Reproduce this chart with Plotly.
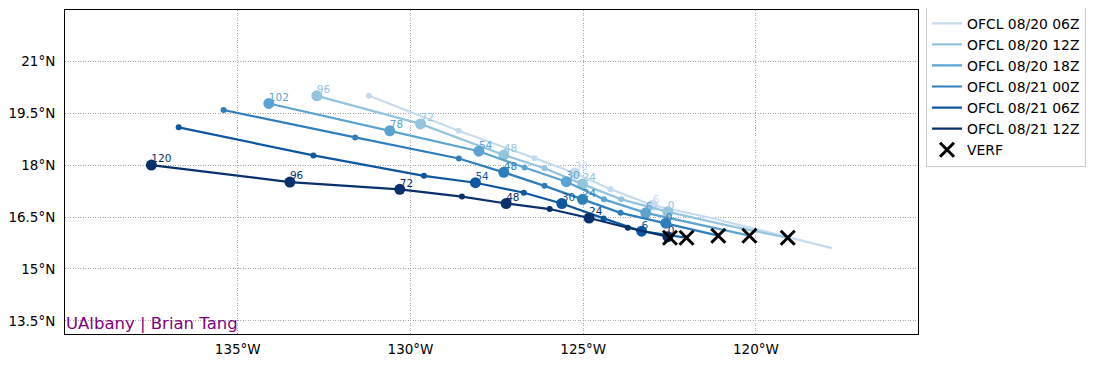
import plotly.graph_objects as go

# ---------------- data ----------------
fcst_hours = [0, 12, 24, 36, 48, 60, 72, 96, 120]

track_names = ["OFCL 08/20 06Z", "OFCL 08/20 12Z", "OFCL 08/20 18Z",
               "OFCL 08/21 00Z", "OFCL 08/21 06Z", "OFCL 08/21 12Z"]
# hours before the latest forecast (08/21 12Z)
track_offsets = [30, 24, 18, 12, 6, 0]

a_lon = [-117.80, -119.50, -121.20, -122.99, -124.21, -125.25, -126.41, -128.61, -131.20]
a_lat = [15.60, 16.02, 16.45, 16.84, 17.30, 17.77, 18.20, 18.99, 20.00]

b_lon = [-119.08, -120.80, -122.55, -123.90, -125.02, -126.12, -127.30, -129.71, -132.71]
b_lat = [15.90, 16.25, 16.65, 17.01, 17.45, 17.91, 18.29, 19.19, 20.00]

c_lon = [-120.19, -121.70, -123.19, -124.40, -125.49, -126.70, -128.02, -130.60, -134.10]
c_lat = [15.96, 16.30, 16.62, 17.01, 17.52, 17.93, 18.40, 18.99, 19.78]

d_lon = [-121.09, -122.61, -123.92, -125.02, -126.12, -127.30, -128.60, -131.60, -135.41]
d_lat = [15.96, 16.32, 16.62, 17.01, 17.40, 17.79, 18.19, 18.80, 19.59]

e_lon = [-122.01, -123.31, -124.41, -125.62, -126.72, -128.12, -129.61, -132.81, -136.71]
e_lat = [15.90, 16.09, 16.46, 16.89, 17.20, 17.49, 17.69, 18.28, 19.09]

f_lon = [-122.55, -123.71, -124.83, -125.97, -127.23, -128.51, -130.31, -133.49, -137.50]
f_lat = [15.93, 16.19, 16.47, 16.73, 16.89, 17.09, 17.30, 17.51, 18.00]

verf_lon = [-122.49, -122.01, -121.09, -120.19, -119.08]
verf_lat = [15.90, 15.90, 15.96, 15.96, 15.90]

lon_ticks = [-135, -130, -125, -120]
lon_ticktext = ["135°W", "130°W", "125°W", "120°W"]
lat_ticks = [13.5, 15, 16.5, 18, 19.5, 21]
lat_ticktext = ["13.5°N", "15°N", "16.5°N", "18°N", "19.5°N", "21°N"]

# ---------------- style ----------------
colors = ["#c6dbef", "#94c4df", "#5ba3d0", "#2e7ebc", "#0d57a1", "#08306b"]
FONT = "DejaVu Sans"

tracks_lon = [a_lon, b_lon, c_lon, d_lon, e_lon, f_lon]
tracks_lat = [a_lat, b_lat, c_lat, d_lat, e_lat, f_lat]

fig = go.Figure()

for name, off, lon, lat, col in zip(track_names, track_offsets, tracks_lon, tracks_lat, colors):
    hrs = [fh - off for fh in fcst_hours]
    h0 = min(h for h in hrs if h >= 0)
    big = [i for i, h in enumerate(hrs) if h >= 0 and (h - h0) % 24 == 0]
    small = [i for i, h in enumerate(hrs) if h >= 0 and (h - h0) % 24 != 0]

    fig.add_trace(go.Scatter(x=lon, y=lat, mode="lines", name=name,
                             line=dict(color=col, width=2.2), hoverinfo="skip"))
    fig.add_trace(go.Scatter(x=[lon[i] for i in small], y=[lat[i] for i in small],
                             mode="markers", showlegend=False,
                             marker=dict(color=col, size=6, line=dict(width=0))))
    fig.add_trace(go.Scatter(x=[lon[i] for i in big], y=[lat[i] for i in big],
                             mode="markers", showlegend=False,
                             marker=dict(color=col, size=11, line=dict(width=0))))
    fig.add_trace(go.Scatter(x=[lon[i] for i in big], y=[lat[i] for i in big],
                             mode="text", showlegend=False,
                             text=[str(hrs[i]) for i in big],
                             textposition="top right",
                             textfont=dict(family=FONT, size=10.5, color=col)))

fig.add_trace(go.Scatter(x=verf_lon, y=verf_lat, mode="markers", name="VERF",
                         marker=dict(symbol="x-thin", size=14, color="black",
                                     line=dict(color="black", width=3))))

fig.add_annotation(text="UAlbany | Brian Tang", xref="paper", yref="paper",
                   x=0, y=0, xanchor="left", yanchor="bottom", showarrow=False,
                   borderpad=0, font=dict(family=FONT, size=16.5, color="#800080"))

# the page adds an 8px body margin, so the figure is 8px smaller and margins shifted
fig.update_layout(
    width=1090, height=357, autosize=False,
    margin=dict(l=57, r=180, t=2, b=31, autoexpand=False),
    paper_bgcolor="white", plot_bgcolor="white",
    font=dict(family=FONT, size=13.5, color="black"),
    showlegend=True,
    legend=dict(x=1.0094, y=1.01, xanchor="left", yanchor="top",
                bordercolor="#cccccc", borderwidth=1, bgcolor="white",
                font=dict(family=FONT, size=13.9, color="black")),
)
fig.update_xaxes(range=[-140.0, -115.31], tickvals=lon_ticks, ticktext=lon_ticktext,
                 showgrid=True, gridcolor="#a8a8a8", griddash="1px,1.5px", gridwidth=0.9,
                 showline=True, mirror=True, linecolor="black", linewidth=1,
                 ticks="", zeroline=False, ticklabelstandoff=3, automargin=False)
fig.update_yaxes(range=[13.12, 22.48], tickvals=lat_ticks, ticktext=lat_ticktext,
                 showgrid=True, gridcolor="#a8a8a8", griddash="1px,1.5px", gridwidth=0.9,
                 showline=True, mirror=True, linecolor="black", linewidth=1,
                 ticks="", zeroline=False, ticklabelstandoff=6, automargin=False)

fig.write_html("out.html")
